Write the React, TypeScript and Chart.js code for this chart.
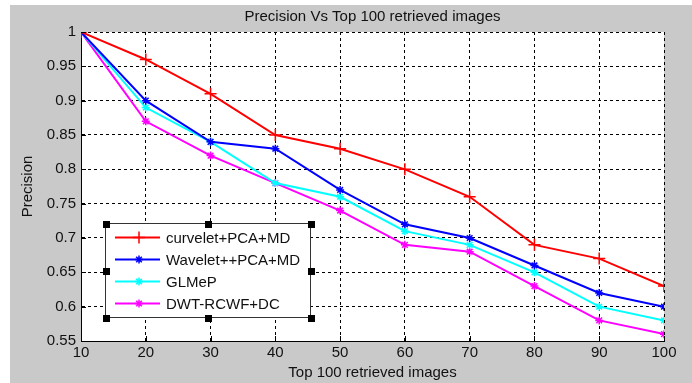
import React, { useEffect, useRef } from "react";
import { Chart, registerables } from "chart.js";

Chart.register(...registerables);

const xValues = [10, 20, 30, 40, 50, 60, 70, 80, 90, 100];
const curveletPCAMD = [1, 0.96, 0.91, 0.85, 0.83, 0.8, 0.76, 0.69, 0.67, 0.63];
const waveletPCAMD = [1, 0.9, 0.84, 0.83, 0.77, 0.72, 0.7, 0.66, 0.62, 0.6];
const glmep = [1, 0.89, 0.84, 0.78, 0.76, 0.71, 0.69, 0.65, 0.6, 0.58];
const dwtRcwfDc = [1, 0.87, 0.82, 0.78, 0.74, 0.69, 0.68, 0.63, 0.58, 0.56];
const seriesLabels = ["curvelet+PCA+MD", "Wavelet++PCA+MD", "GLMeP", "DWT-RCWF+DC"];
const titleText = "Precision Vs Top 100 retrieved images";
const xTitle = "Top 100 retrieved images";
const yTitle = "Precision";

const FONT = "'Liberation Sans', Arial, sans-serif";
const FS = 15;

const bgPlugin = {
  id: "bgPlugin",
  beforeDraw(chart: any) {
    const ctx = chart.ctx;
    ctx.save();
    ctx.fillStyle = "#ffffff";
    ctx.fillRect(0, 0, chart.width, chart.height);
    ctx.fillStyle = "#c9c9c9";
    ctx.fillRect(10, 5, chart.width - 10, chart.height - 5);
    const a = chart.chartArea;
    ctx.fillStyle = "#ffffff";
    ctx.fillRect(a.left, a.top, a.right - a.left, a.bottom - a.top);
    ctx.restore();
  },
  afterDatasetsDraw(chart: any) {
    // inward tick marks on left and bottom axes
    const ctx = chart.ctx;
    const a = chart.chartArea;
    const xs = chart.scales.x;
    const ys = chart.scales.y;
    ctx.save();
    ctx.strokeStyle = "#000000";
    ctx.lineWidth = 1;
    ctx.beginPath();
    xs.ticks.forEach((t: any) => {
      const px = Math.round(xs.getPixelForValue(t.value)) + 0.5;
      ctx.moveTo(px, a.bottom);
      ctx.lineTo(px, a.bottom - 5);
    });
    ys.ticks.forEach((t: any) => {
      const py = Math.round(ys.getPixelForValue(t.value)) + 0.5;
      ctx.moveTo(a.left, py);
      ctx.lineTo(a.left + 5, py);
    });
    ctx.stroke();
    ctx.restore();
  },
};

const legendPlugin = {
  id: "legendPlugin",
  afterDraw(chart: any) {
    const ctx = chart.ctx;
    const x0 = 105, y0 = 223, x1 = 310, y1 = 317;
    ctx.save();
    ctx.fillStyle = "#ffffff";
    ctx.fillRect(x0, y0, x1 - x0, y1 - y0);
    ctx.strokeStyle = "#333333";
    ctx.lineWidth = 1;
    ctx.strokeRect(x0 + 0.5, y0 + 0.5, x1 - x0, y1 - y0);
    ctx.fillStyle = "#000000";
    const hs = 7;
    const hx = [x0, (x0 + x1) / 2, x1];
    const hy = [y0, (y0 + y1) / 2, y1];
    for (const px of hx) {
      for (const py of hy) {
        if (px === hx[1] && py === hy[1]) continue;
        ctx.fillRect(Math.round(px - hs / 2) + 1, Math.round(py - hs / 2) + 1, hs, hs);
      }
    }
    const rowY = [237.5, 259.5, 281.5, 303.5];
    chart.data.datasets.forEach((ds: any, i: number) => {
      const y = rowY[i];
      ctx.strokeStyle = ds.borderColor;
      ctx.lineWidth = 2;
      ctx.beginPath();
      ctx.moveTo(115, y);
      ctx.lineTo(160, y);
      ctx.stroke();
      const mx = 139;
      const r = ds.pointRadius;
      ctx.lineWidth = 1.5;
      ctx.beginPath();
      ctx.moveTo(mx - r, y);
      ctx.lineTo(mx + r, y);
      ctx.moveTo(mx, y - r);
      ctx.lineTo(mx, y + r);
      if (ds.pointStyle === "star") {
        const d = r * 0.7;
        ctx.moveTo(mx - d, y - d);
        ctx.lineTo(mx + d, y + d);
        ctx.moveTo(mx - d, y + d);
        ctx.lineTo(mx + d, y - d);
      }
      ctx.stroke();
      ctx.fillStyle = "#111111";
      ctx.font = `${FS}px ${FONT}`;
      ctx.textBaseline = "middle";
      ctx.textAlign = "left";
      ctx.fillText(ds.label, 166, y + 1);
    });
    ctx.restore();
  },
};

export default function App() {
  const ref = useRef<HTMLCanvasElement | null>(null);
  useEffect(() => {
    document.body.style.margin = "0";
    const canvas = ref.current!;
    const mk = (vals: number[]) => vals.map((v, i) => ({ x: xValues[i], y: v }));
    const chart = new Chart(canvas, {
      type: "line",
      data: {
        datasets: [
          { label: seriesLabels[0], data: mk(curveletPCAMD), borderColor: "#ff0000", backgroundColor: "#ff0000", pointStyle: "cross", pointRadius: 6, borderWidth: 2, pointBorderWidth: 1.5 },
          { label: seriesLabels[1], data: mk(waveletPCAMD), borderColor: "#0000ff", backgroundColor: "#0000ff", pointStyle: "star", pointRadius: 4, borderWidth: 2, pointBorderWidth: 1.5 },
          { label: seriesLabels[2], data: mk(glmep), borderColor: "#00ffff", backgroundColor: "#00ffff", pointStyle: "star", pointRadius: 4, borderWidth: 2, pointBorderWidth: 1.5 },
          { label: seriesLabels[3], data: mk(dwtRcwfDc), borderColor: "#ff00ff", backgroundColor: "#ff00ff", pointStyle: "star", pointRadius: 4, borderWidth: 2, pointBorderWidth: 1.5 },
        ] as any,
      },
      options: {
        animation: false,
        responsive: false,
        devicePixelRatio: 1,
        layout: { padding: { left: 0, right: 28, top: 0, bottom: 0 } },
        elements: { line: { tension: 0 } },
        plugins: {
          legend: { display: false },
          tooltip: { enabled: false },
          title: {
            display: true,
            text: titleText,
            fullSize: false,
            color: "#111111",
            font: { family: FONT, size: FS, weight: "normal", lineHeight: 1 },
            padding: { top: 9, bottom: 8 },
          },
        },
        scales: {
          x: {
            type: "linear",
            min: 10,
            max: 100,
            ticks: { stepSize: 10, color: "#111111", font: { family: FONT, size: FS }, padding: 3, maxRotation: 0 },
            grid: { color: "#000000", drawTicks: false, lineWidth: 1 },
            border: { display: true, color: "#000000", dash: [3, 3], width: 1 },
            title: { display: true, text: xTitle, color: "#111111", font: { family: FONT, size: FS }, padding: { top: 0, bottom: 1 } },
            afterFit(s: any) { s.height = 42; },
          },
          y: {
            min: 0.55,
            max: 1,
            ticks: {
              stepSize: 0.05,
              color: "#111111",
              font: { family: FONT, size: FS },
              padding: 5,
              callback: (v: any) => String(Number(Number(v).toFixed(2))),
            },
            grid: { color: "#000000", drawTicks: false, lineWidth: 1 },
            border: { display: true, color: "#000000", dash: [3, 3], width: 1 },
            title: { display: true, text: yTitle, color: "#111111", font: { family: FONT, size: FS }, padding: { top: 19, bottom: 0 } },
            afterFit(s: any) { s.width = 81; },
          },
        },
      } as any,
      plugins: [bgPlugin, legendPlugin],
    });
    return () => chart.destroy();
  }, []);
  return <canvas ref={ref} width={692} height={383} style={{ display: "block", width: 692, height: 383 }} />;
}
